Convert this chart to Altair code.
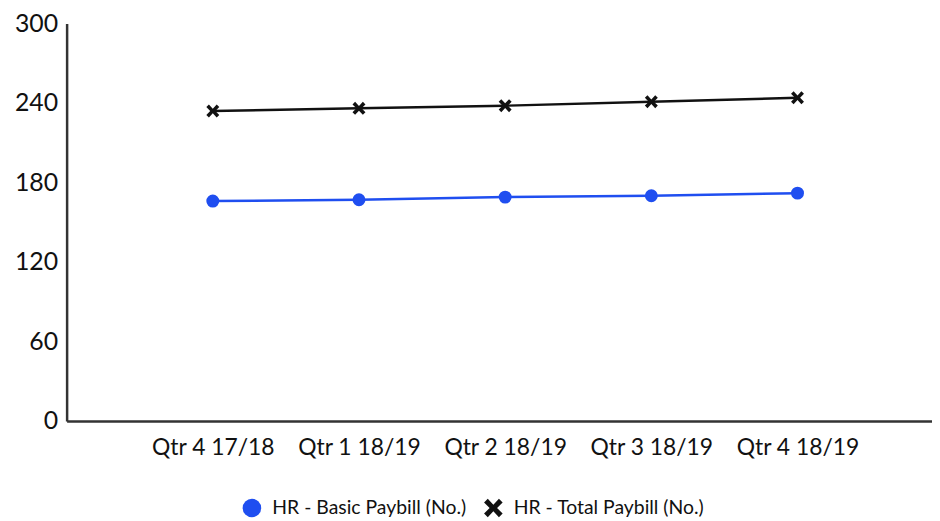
import json
import altair as alt
import pandas as pd

quarters = ["Qtr 4 17/18", "Qtr 1 18/19", "Qtr 2 18/19", "Qtr 3 18/19", "Qtr 4 18/19"]
basic = [166, 167, 169, 170, 172]
total = [234, 236, 238, 241, 244]
series_names = ["HR - Basic Paybill (No.)", "HR - Total Paybill (No.)"]
series_colors = ["#1f4ef0", "#111111"]
y_ticks = [0, 60, 120, 180, 240, 300]

X_PATH = ("M-1,-0.6L-0.6,-1L0,-0.36L0.6,-1L1,-0.6L0.4,0L1,0.6L0.6,1"
          "L0,0.36L-0.6,1L-1,0.6L-0.4,0Z")

rows = []
for name, col, vals in zip(series_names, series_colors, [basic, total]):
    for i, (q, v) in enumerate(zip(quarters, vals)):
        rows.append({"idx": i + 1, "quarter": q, "series": name, "value": v, "col": col})
df = pd.DataFrame(rows)

label_expr = json.dumps(quarters) + "[datum.value - 1]"
FONT = "Lato"

x = alt.X("idx:Q", scale=alt.Scale(domain=[0, 5.92], nice=False, zero=False),
          axis=alt.Axis(title=None, values=[1, 2, 3, 4, 5], labelExpr=label_expr,
                        ticks=False, grid=False, labelFontSize=23, labelFont=FONT,
                        labelColor="#111", labelPadding=16, domainColor="#333",
                        domainWidth=2.5, labelFlush=False))
y = alt.Y("value:Q", scale=alt.Scale(domain=[0, 300], nice=False),
          axis=alt.Axis(title=None, values=y_ticks, ticks=False, grid=False,
                        labelFontSize=25, labelFont=FONT, labelColor="#111",
                        labelPadding=9, domainColor="#333", domainWidth=2.5,
                        minExtent=54, maxExtent=54))


def make_legend():
    return alt.Legend(title=None, orient="none", direction="horizontal",
                      legendX=176, legendY=477, symbolSize=350,
                      labelFontSize=19.5, labelFont=FONT, labelColor="#111",
                      symbolOpacity=1, columnPadding=14, labelOffset=10,
                      labelLimit=400)


base = alt.Chart(df)
lines = base.mark_line(strokeWidth=2.5).encode(
    x=x, y=y, detail="series:N", color=alt.Color("col:N", scale=None))
points = base.mark_point(filled=True, opacity=1, size=170).encode(
    x=x, y=y,
    color=alt.Color("series:N", scale=alt.Scale(domain=series_names, range=series_colors),
                    legend=make_legend()),
    shape=alt.Shape("series:N", scale=alt.Scale(domain=series_names, range=["circle", X_PATH]),
                    legend=make_legend()),
)

chart = (lines + points).properties(
    width=871, height=400,
    padding={"left": 5, "top": 2, "right": 0, "bottom": 0},
).configure_view(stroke=None)

chart.save("out.html", embed_options={"renderer": "svg", "actions": False})
